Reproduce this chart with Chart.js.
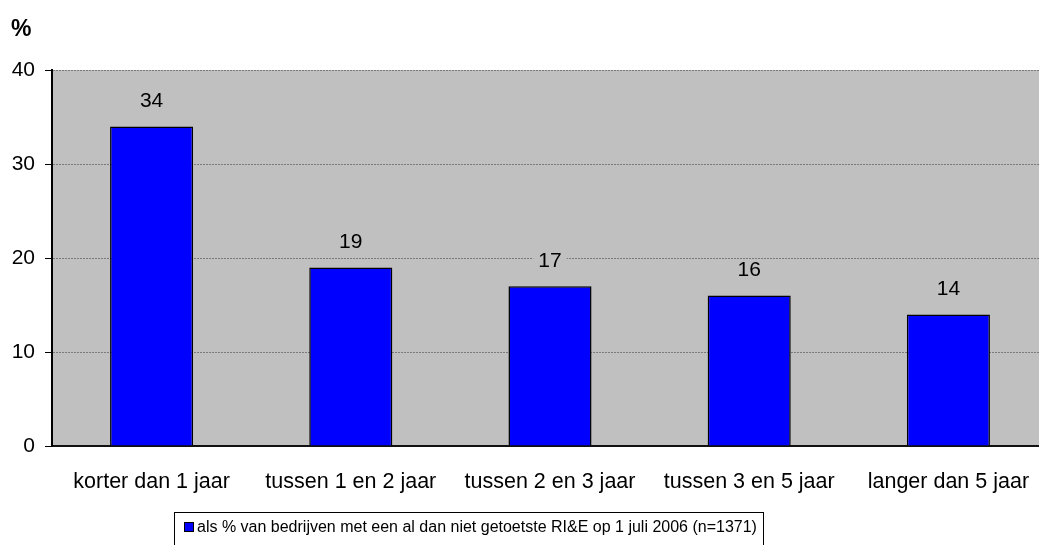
<!DOCTYPE html>
<html>
<head>
<meta charset="utf-8">
<script src="https://cdn.jsdelivr.net/npm/chart.js@4/dist/chart.umd.min.js"></script>
<style>
html,body{margin:0;padding:0;background:#fff;overflow:hidden;}
#wrap{position:relative;width:1039px;height:545px;overflow:hidden;}
canvas{display:block;}
</style>
</head>
<body>
<div id="wrap"><canvas id="c" width="1050" height="545"></canvas></div>
<script>
const categories = ["korter dan 1 jaar", "tussen 1 en 2 jaar", "tussen 2 en 3 jaar", "tussen 3 en 5 jaar", "langer dan 5 jaar"];
const values = [34, 19, 17, 16, 14];
const seriesLabel = "als % van bedrijven met een al dan niet getoetste RI&E op 1 juli 2006 (n=1371)";
const yTicks = [0, 10, 20, 30, 40];
const yTitle = "%";

const FONT = "'Liberation Sans', Arial, sans-serif";

const bgPlugin = {
  id: 'plotBg',
  beforeDraw(chart) {
    const {ctx, chartArea: a} = chart;
    ctx.save();
    ctx.fillStyle = '#c0c0c0';
    ctx.fillRect(a.left, a.top, a.right - a.left, a.bottom - a.top);
    ctx.restore();
  }
};

const labelPlugin = {
  id: 'valLabels',
  afterDatasetsDraw(chart) {
    const ctx = chart.ctx;
    const meta = chart.getDatasetMeta(0);
    ctx.save();
    ctx.font = '21px ' + FONT;
    ctx.textAlign = 'center';
    ctx.textBaseline = 'middle';
    meta.data.forEach((bar, i) => {
      const txt = String(chart.data.datasets[0].data[i]);
      const y = bar.y - 25;
      const w = ctx.measureText(txt).width + 10;
      ctx.fillStyle = '#c0c0c0';
      ctx.fillRect(bar.x - w / 2, y - 11, w, 22);
      ctx.fillStyle = '#000';
      ctx.fillText(txt, bar.x, y);
    });
    // y title
    ctx.font = 'bold 23px ' + FONT;
    ctx.textAlign = 'left';
    ctx.fillText(yTitle, 11, 30);
    // legend box
    const lx = 174, ly = 512, lw = 589, lh = 40;
    ctx.fillStyle = '#fff';
    ctx.fillRect(lx, ly, lw, lh);
    ctx.strokeStyle = '#000';
    ctx.lineWidth = 1;
    ctx.strokeRect(lx + 0.5, ly + 0.5, lw, lh);
    ctx.fillStyle = '#0000ff';
    ctx.fillRect(184.5, 522.5, 9, 9);
    ctx.strokeRect(184.5, 522.5, 9, 9);
    ctx.fillStyle = '#000';
    ctx.font = '16px ' + FONT;
    ctx.fillText(chart.data.datasets[0].label, 197, 528);
    ctx.restore();
  }
};

new Chart(document.getElementById('c'), {
  type: 'bar',
  data: {
    labels: categories,
    datasets: [{
      label: seriesLabel,
      data: values,
      backgroundColor: '#0000ff',
      borderColor: '#000',
      borderWidth: 1.5,
      categoryPercentage: 0.834,
      barPercentage: 0.5
    }]
  },
  options: {
    responsive: false,
    animation: false,
    devicePixelRatio: 1,
    layout: { padding: { top: 70, right: 2, bottom: 0, left: 0 } },
    plugins: { legend: { display: false }, tooltip: { enabled: false } },
    scales: {
      x: {
        grid: { display: false },
        border: { color: '#111', width: 2 },
        ticks: { color: '#000', font: { family: FONT, size: 21.5 }, padding: 15, maxRotation: 0 },
        afterFit(s) { s.height = 99; }
      },
      y: {
        min: 0, max: 40,
        afterBuildTicks(s) { s.ticks = yTicks.map(v => ({ value: v })); },
        grid: {
          color: ctx => (ctx.tick && ctx.tick.value === 0) ? 'rgba(0,0,0,0)' : '#7a7a7a',
          lineWidth: 1,
          tickLength: 7,
          tickColor: '#000',
          drawTicks: true
        },
        border: { color: '#000', width: 2, dash: [2, 1] },
        ticks: { color: '#000', font: { family: FONT, size: 21 }, padding: 10 },
        afterFit(s) { s.width = 52; }
      }
    }
  },
  plugins: [bgPlugin, labelPlugin]
});
</script>
</body>
</html>
